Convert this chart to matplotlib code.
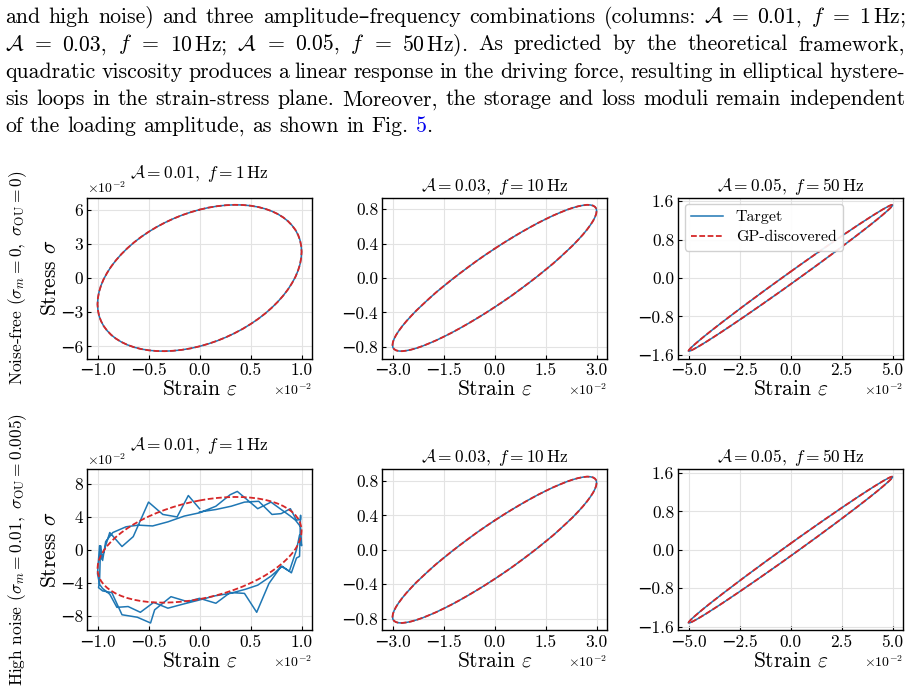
import matplotlib
matplotlib.use("Agg")
import matplotlib.pyplot as plt
from matplotlib.ticker import ScalarFormatter
import numpy as np

plt.rcParams['font.family'] = ['cmr10', 'DejaVu Sans']
plt.rcParams['mathtext.fontset'] = 'cm'
plt.rcParams['axes.unicode_minus'] = True

# ---------------- data (strain in units of 1e-2) ----------------
amplitudes = [0.01, 0.03, 0.05]
frequencies = [1, 10, 50]
row_labels = [r"Noise-free ($\sigma_m=0,\ \sigma_{\mathrm{OU}}=0$)",
              r"High noise ($\sigma_m=0.01,\ \sigma_{\mathrm{OU}}=0.005$)"]
legend_labels = ["Target", "GP-discovered"]

strain_A1 = [0.000, 0.087, 0.174, 0.259, 0.342, 0.423, 0.500, 0.574, 0.643, 0.707, 0.766, 0.819, 0.866, 0.906,
             0.940, 0.966, 0.985, 0.996, 1.000, 0.996, 0.985, 0.966, 0.940, 0.906, 0.866, 0.819, 0.766, 0.707,
             0.643, 0.574, 0.500, 0.423, 0.342, 0.259, 0.174, 0.087,
             0.000, -0.087, -0.174, -0.259, -0.342, -0.423, -0.500, -0.574, -0.643, -0.707, -0.766, -0.819,
             -0.866, -0.906, -0.940, -0.966, -0.985, -0.996, -1.000, -0.996, -0.985, -0.966, -0.940, -0.906,
             -0.866, -0.819, -0.766, -0.707, -0.643, -0.574, -0.500, -0.423, -0.342, -0.259, -0.174, -0.087,
             0.000]
stress_A1 = [6.000, 6.178, 6.308, 6.390, 6.425, 6.410, 6.346, 6.234, 6.074, 5.869, 5.619, 5.326, 4.992, 4.620,
             4.213, 3.775, 3.307, 2.814, 2.300, 1.768, 1.223, 0.669, 0.109, -0.452, -1.008, -1.558, -2.095,
             -2.617, -3.118, -3.596, -4.046, -4.466, -4.851, -5.200, -5.510, -5.776,
             -6.000, -6.178, -6.308, -6.390, -6.425, -6.410, -6.346, -6.234, -6.074, -5.869, -5.619, -5.326,
             -4.992, -4.620, -4.213, -3.775, -3.307, -2.814, -2.300, -1.768, -1.223, -0.669, -0.109, 0.452,
             1.008, 1.558, 2.095, 2.617, 3.118, 3.596, 4.046, 4.466, 4.851, 5.200, 5.510, 5.776,
             6.000]

strain_A3 = [0.000, 0.262, 0.521, 0.776, 1.026, 1.268, 1.500, 1.721, 1.928, 2.121, 2.298, 2.458, 2.598, 2.719,
             2.819, 2.898, 2.954, 2.989, 3.000, 2.989, 2.954, 2.898, 2.819, 2.719, 2.598, 2.458, 2.298, 2.121,
             1.928, 1.721, 1.500, 1.268, 1.026, 0.776, 0.521, 0.262,
             0.000, -0.262, -0.521, -0.776, -1.026, -1.268, -1.500, -1.721, -1.928, -2.121, -2.298, -2.458,
             -2.598, -2.719, -2.819, -2.898, -2.954, -2.989, -3.000, -2.989, -2.954, -2.898, -2.819, -2.719,
             -2.598, -2.458, -2.298, -2.121, -1.928, -1.721, -1.500, -1.268, -1.026, -0.776, -0.521, -0.262,
             0.000]
stress_A3 = [0.340, 0.407, 0.470, 0.530, 0.586, 0.638, 0.684, 0.726, 0.761, 0.792, 0.816, 0.834, 0.845, 0.851,
             0.849, 0.841, 0.827, 0.807, 0.780, 0.747, 0.709, 0.665, 0.617, 0.563, 0.505, 0.444, 0.378, 0.312,
             0.241, 0.168, 0.096, 0.022, -0.052, -0.126, -0.200, -0.271,
             -0.340, -0.407, -0.470, -0.530, -0.586, -0.638, -0.684, -0.726, -0.761, -0.792, -0.816, -0.834,
             -0.845, -0.851, -0.849, -0.841, -0.827, -0.807, -0.780, -0.747, -0.709, -0.665, -0.617, -0.563,
             -0.505, -0.444, -0.378, -0.312, -0.241, -0.168, -0.096, -0.022, 0.052, 0.126, 0.200, 0.271,
             0.340]

strain_A5 = [0.000, 0.436, 0.868, 1.294, 1.710, 2.113, 2.500, 2.868, 3.214, 3.536, 3.830, 4.096, 4.330, 4.532,
             4.698, 4.830, 4.924, 4.981, 5.000, 4.981, 4.924, 4.830, 4.698, 4.532, 4.330, 4.096, 3.830, 3.536,
             3.214, 2.868, 2.500, 2.113, 1.710, 1.294, 0.868, 0.436,
             0.000, -0.436, -0.868, -1.294, -1.710, -2.113, -2.500, -2.868, -3.214, -3.536, -3.830, -4.096,
             -4.330, -4.532, -4.698, -4.830, -4.924, -4.981, -5.000, -4.981, -4.924, -4.830, -4.698, -4.532,
             -4.330, -4.096, -3.830, -3.536, -3.214, -2.868, -2.500, -2.113, -1.710, -1.294, -0.868, -0.436,
             0.000]
stress_A5 = [0.130, 0.263, 0.392, 0.519, 0.642, 0.760, 0.873, 0.978, 1.077, 1.167, 1.248, 1.320, 1.381, 1.433,
             1.472, 1.502, 1.520, 1.525, 1.520, 1.503, 1.474, 1.434, 1.384, 1.323, 1.251, 1.170, 1.080, 0.983,
             0.877, 0.766, 0.647, 0.524, 0.398, 0.267, 0.136, 0.003,
             -0.130, -0.263, -0.392, -0.519, -0.642, -0.760, -0.873, -0.978, -1.077, -1.167, -1.248, -1.320,
             -1.381, -1.433, -1.472, -1.502, -1.520, -1.525, -1.520, -1.503, -1.474, -1.434, -1.384, -1.323,
             -1.251, -1.170, -1.080, -0.983, -0.877, -0.766, -0.647, -0.524, -0.398, -0.267, -0.136, -0.003,
             0.130]

# noisy target, A = 0.01, f = 1 Hz (strain and stress in units of 1e-2)
noisy_strain_A1 = [0.00, 0.16, 0.31, 0.44, 0.58, 0.71, 0.80, 0.89, 0.95, 0.99, 0.99, 0.98, 0.95, 0.90, 0.81,
                   0.70, 0.57, 0.45, 0.30, 0.15, 0.00, -0.16, -0.31, -0.45, -0.58, -0.70, -0.81, -0.88, -0.95,
                   -0.98, -1.00, -0.98, -0.95, -0.92, -0.85, -0.72, -0.60, -0.46, -0.31, -0.15,
                   0.00, 0.16, 0.30, 0.37, 0.57, 0.70, 0.80, 0.89, 0.94, 0.99, 1.00, 0.98, 0.95, 0.88, 0.80,
                   0.68, 0.56, 0.44, 0.30, 0.16, 0.00, -0.12, -0.28, -0.44, -0.48, -0.61, -0.76, -0.86, -0.95,
                   -0.99, -0.98, -0.97, -0.96, -0.88, -0.76, -0.65, -0.50, -0.36, -0.22, -0.11, 0.00]
noisy_stress_A1 = [4.6, 4.9, 5.3, 5.8, 5.9, 4.3, 4.4, 5.0, 3.6, 3.7, 4.2, -0.8, -1.0, -2.8, -2.0,
                   -3.2, -4.3, -4.8, -5.3, -5.6, -6.1, -6.6, -7.1, -6.4, -7.6, -6.9, -7.0, -5.4, -4.7,
                   -4.2, -2.9, 0.5, -1.3, 1.0, 2.1, 2.8, 3.0, 2.9, 3.4, 4.1,
                   4.5, 5.3, 6.7, 7.1, 5.0, 5.8, 4.9, 4.1, 3.6, 2.8, 0.5, 1.8, 0.0, -2.6, -2.0,
                   -4.1, -7.6, -5.3, -5.2, -6.5, -5.9, -6.3, -5.7, -7.3, -8.9, -8.2, -7.9, -5.2, -5.0,
                   -4.6, -3.9, 0.5, -1.1, 2.1, 0.4, 1.6, 5.8, 4.3, 4.0, 6.6, 5.0]

# panels: [row][col] -> (target strain, target stress, gp strain, gp stress, stress unit)
panels = [
    [(strain_A1, stress_A1, strain_A1, stress_A1, 1e-2),
     (strain_A3, stress_A3, strain_A3, stress_A3, 1.0),
     (strain_A5, stress_A5, strain_A5, stress_A5, 1.0)],
    [(noisy_strain_A1, noisy_stress_A1, strain_A1, stress_A1, 1e-2),
     (strain_A3, stress_A3, strain_A3, stress_A3, 1.0),
     (strain_A5, stress_A5, strain_A5, stress_A5, 1.0)],
]
yticks = [
    [[-6e-2, -3e-2, 0, 3e-2, 6e-2], [-0.8, -0.4, 0.0, 0.4, 0.8], [-1.6, -0.8, 0.0, 0.8, 1.6]],
    [[-8e-2, -4e-2, 0, 4e-2, 8e-2], [-0.8, -0.4, 0.0, 0.4, 0.8], [-1.6, -0.8, 0.0, 0.8, 1.6]],
]
xticks = [[-1e-2, -0.5e-2, 0, 0.5e-2, 1e-2], [-3e-2, -1.5e-2, 0, 1.5e-2, 3e-2], [-5e-2, -2.5e-2, 0, 2.5e-2, 5e-2]]

STRAIN_UNIT = 1e-2

# ---------------- figure ----------------
W, H = 913, 689
fig = plt.figure(figsize=(W / 100, H / 100), dpi=100)


class Fmt(ScalarFormatter):
    def __init__(self):
        super().__init__(useMathText=True)
        self.set_powerlimits((-2, 2))

    def __call__(self, x, pos=None):
        s = super().__call__(x, pos)
        return s.replace(r'$\mathdefault{', '').replace('}$', '')


col_left = [87.3, 382.3, 678.3]
row_top = [197.5, 469.3]
aw, ah = 224.5, 161.0

TICK_FS = 12.5
blue = '#1f77b4'
red = '#d62728'

for r in range(2):
    for c in range(3):
        ax = fig.add_axes([col_left[c] / W, 1 - (row_top[r] + ah) / H, aw / W, ah / H])
        ts, tsig, gs, gsig, su = panels[r][c]
        tx = np.asarray(ts) * STRAIN_UNIT
        ty = np.asarray(tsig) * su
        gx = np.asarray(gs) * STRAIN_UNIT
        gy = np.asarray(gsig) * su
        ax.plot(tx, ty, color=blue, lw=1.1, label=legend_labels[0], zorder=3)
        ax.plot(gx, gy, color=red, lw=1.3, ls=(0, (3.2, 1.4)), label=legend_labels[1], zorder=4)
        xm = amplitudes[c] * 1.1
        ym = 1.1 * max(np.abs(ty).max(), np.abs(gy).max())
        ax.set_xlim(-xm, xm)
        ax.set_ylim(-ym, ym)
        ax.set_xticks(xticks[c])
        ax.set_yticks(yticks[r][c])
        ax.xaxis.set_major_formatter(Fmt())
        ax.yaxis.set_major_formatter(Fmt())
        ax.tick_params(direction='in', labelsize=TICK_FS, length=3, width=0.8, pad=3)
        ax.xaxis.get_offset_text().set_fontsize(10)
        ax.yaxis.get_offset_text().set_fontsize(10)
        ax.grid(True, color='#e3e3e3', lw=0.8, zorder=0)
        ax.set_axisbelow(True)
        for sp in ax.spines.values():
            sp.set_linewidth(1.0)
        ax.set_title(r'$\mathcal{A}=%s,\ f=%d\,\mathrm{Hz}$' % (f"{amplitudes[c]:.2f}", frequencies[c]),
                     fontsize=12.5, pad=(14 if c == 0 else 5))
        ax.set_xlabel(r'Strain $\varepsilon$', fontsize=15.5, labelpad=1)
        if c == 0:
            ax.set_ylabel(r'Stress $\sigma$', fontsize=15.5, labelpad=0)
        if r == 0 and c == 2:
            ax.legend(loc='upper left', fontsize=11.5, handlelength=2.0, framealpha=0.9,
                      borderaxespad=0.4, labelspacing=0.35)

# row labels
fig.text(18 / W, 1 - 277.5 / H, row_labels[0], rotation=90, ha='center', va='center', fontsize=12.5)
fig.text(18 / W, 1 - 550 / H, row_labels[1], rotation=90, ha='center', va='center', fontsize=12.5)

# ---------------- paragraph above the figure ----------------
para_lines = [
    r"and high noise) and three amplitude–frequency combinations (columns: $\mathcal{A}$ = 0.01, $f$ = 1$\,$Hz;",
    r"$\mathcal{A}$ = 0.03, $f$ = 10$\,$Hz; $\mathcal{A}$ = 0.05, $f$ = 50$\,$Hz). As predicted by the theoretical framework,",
    r"quadratic viscosity produces a linear response in the driving force, resulting in elliptical hystere-",
    r"sis loops in the strain-stress plane. Moreover, the storage and loss moduli remain independent",
]
last_line = "of the loading amplitude, as shown in Fig."
baselines = [22.7, 50.5, 78.0, 105.3, 132.0]
PFS = 15.7
X0, X1 = 5.0, 905.0

fig.canvas.draw()
renderer = fig.canvas.get_renderer()


def place_words(words, y_px, justify, colors=None):
    objs = []
    for i, w in enumerate(words):
        col = colors[i] if colors else 'black'
        objs.append(fig.text(0, 1 - y_px / H, w, fontsize=PFS, va='baseline', ha='left', color=col))
    widths = [o.get_window_extent(renderer).width for o in objs]
    if justify:
        gap = (X1 - X0 - sum(widths)) / (len(words) - 1)
    else:
        gap = PFS * 100 / 72 * 0.333
    x = X0
    for o, w in zip(objs, widths):
        o.set_x(x / W)
        x += w + gap
    return x


for line, yb in zip(para_lines, baselines[:4]):
    place_words(line.split(' '), yb, True)

xend = place_words(last_line.split(' '), baselines[4], False)
t5 = fig.text(xend / W, 1 - baselines[4] / H, "5", fontsize=PFS, va='baseline', ha='left', color='#0000ee')
w5 = t5.get_window_extent(renderer).width
fig.text((xend + w5) / W, 1 - baselines[4] / H, ".", fontsize=PFS, va='baseline', ha='left')

fig.savefig("out.png", dpi=100)
